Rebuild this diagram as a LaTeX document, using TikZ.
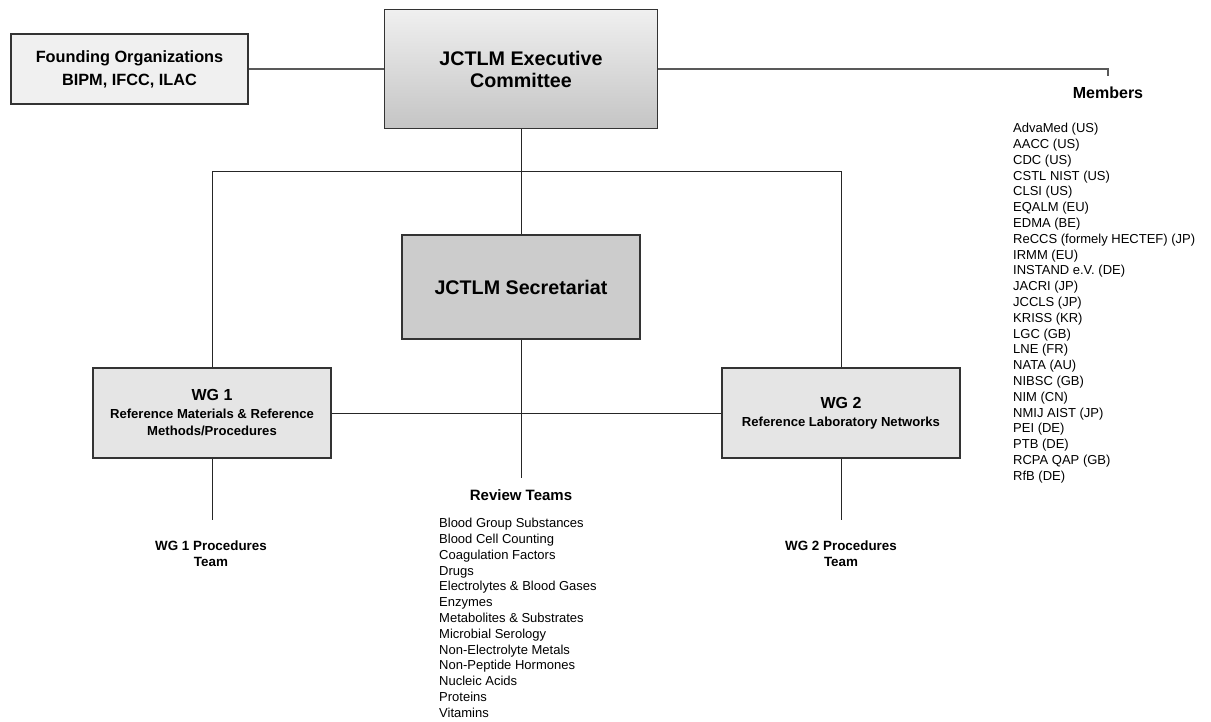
\documentclass[tikz,border=0pt]{standalone}
\usepackage{fontspec}
\setmainfont{Liberation Sans}
\begin{document}
\begin{tikzpicture}[x=1pt,y=-1pt,
  box/.style={draw=black!80, line width=1.1pt, align=center, inner sep=0pt},
  conn/.style={draw=black!85, line width=0.9pt},
  topconn/.style={draw=black!65, line width=1.4pt},
  lbl/.style={align=center, inner sep=0pt},
  item/.style={anchor=base west, inner sep=0pt, font=\fontsize{13}{15.8}\selectfont}]
\useasboundingbox (0,0) rectangle (1211,722);

% boxes
\node[box, fill=black!6, minimum width=237pt, minimum height=70pt,
  font=\bfseries\fontsize{16.3}{23}\selectfont] (found) at (129.5,69)
  {Founding Organizations\\BIPM, IFCC, ILAC};
\node[box, top color=black!6, bottom color=black!23, minimum width=273pt, minimum height=119pt,
  font=\bfseries\fontsize{19.7}{22}\selectfont] (exec) at (521,69)
  {JCTLM Executive\\Committee};
\node[box, fill=black!20, minimum width=238pt, minimum height=104pt,
  font=\bfseries\fontsize{19.7}{22}\selectfont] (sec) at (521,287)
  {JCTLM Secretariat};
\node[box, fill=black!10, minimum width=238pt, minimum height=90pt,
  font=\bfseries\fontsize{13.1}{17.5}\selectfont] (wg1) at (212,413)
  {{\fontsize{16}{17.5}\selectfont WG 1}\\Reference Materials \& Reference\\Methods/Procedures};
\node[box, fill=black!10, minimum width=238pt, minimum height=90pt,
  font=\bfseries\fontsize{13.1}{18}\selectfont] (wg2) at (841,413)
  {{\fontsize{16}{18}\selectfont WG 2}\\Reference Laboratory Networks};

% labels
\node[lbl, font=\bfseries\fontsize{13.4}{16}\selectfont] (wg1t) at (211,554) {WG 1 Procedures\\Team};
\node[lbl, font=\bfseries\fontsize{13.4}{16}\selectfont] (wg2t) at (841,554) {WG 2 Procedures\\Team};
\node[lbl, font=\bfseries\fontsize{15}{18}\selectfont] (rt) at (521,495) {Review Teams};
\node[lbl, font=\bfseries\fontsize{16}{18}\selectfont] (mem) at (1108,93) {Members};

% lists
\foreach \t [count=\i] in {AdvaMed (US), AACC (US), CDC (US), CSTL NIST (US), CLSI (US),
  EQALM (EU), EDMA (BE), ReCCS (formely HECTEF) (JP), IRMM (EU), INSTAND e.V. (DE),
  JACRI (JP), JCCLS (JP), KRISS (KR), LGC (GB), LNE (FR), NATA (AU), NIBSC (GB),
  NIM (CN), NMIJ AIST (JP), PEI (DE), PTB (DE), RCPA QAP (GB), RfB (DE)}
  \node[item, name=m\i] at ({1013},{132.7+15.8*(\i-1)}) {\t};
\foreach \t [count=\i] in {Blood Group Substances, Blood Cell Counting, Coagulation Factors,
  Drugs, Electrolytes \& Blood Gases, Enzymes, Metabolites \& Substrates, Microbial Serology,
  Non-Electrolyte Metals, Non-Peptide Hormones, Nucleic Acids, Proteins, Vitamins}
  \node[item, name=r\i] at ({439},{527.7+15.8*(\i-1)}) {\t};

% connectors
\coordinate (mtop) at (1108,69);
\coordinate (mtick) at (1108,76);
\coordinate (bus) at (212,171);
\coordinate (secend) at (521,478);
\coordinate (wg1end) at (212,520);
\coordinate (wg2end) at (841,520);
\draw[topconn] (found.east) -- (exec.west);
\draw[topconn] (exec.east) -- (mtop) -- (mtick);
\draw[conn] (exec.south) -- (sec.north);
\draw[conn] (wg1.north) -- (wg1.north |- bus) -- (wg2.north |- bus) -- (wg2.north);
\draw[conn] (sec.south) -- (secend);
\draw[conn] (wg1.east) -- (wg2.west);
\draw[conn] (wg1.south) -- (wg1end);
\draw[conn] (wg2.south) -- (wg2end);
\end{tikzpicture}
\end{document}
